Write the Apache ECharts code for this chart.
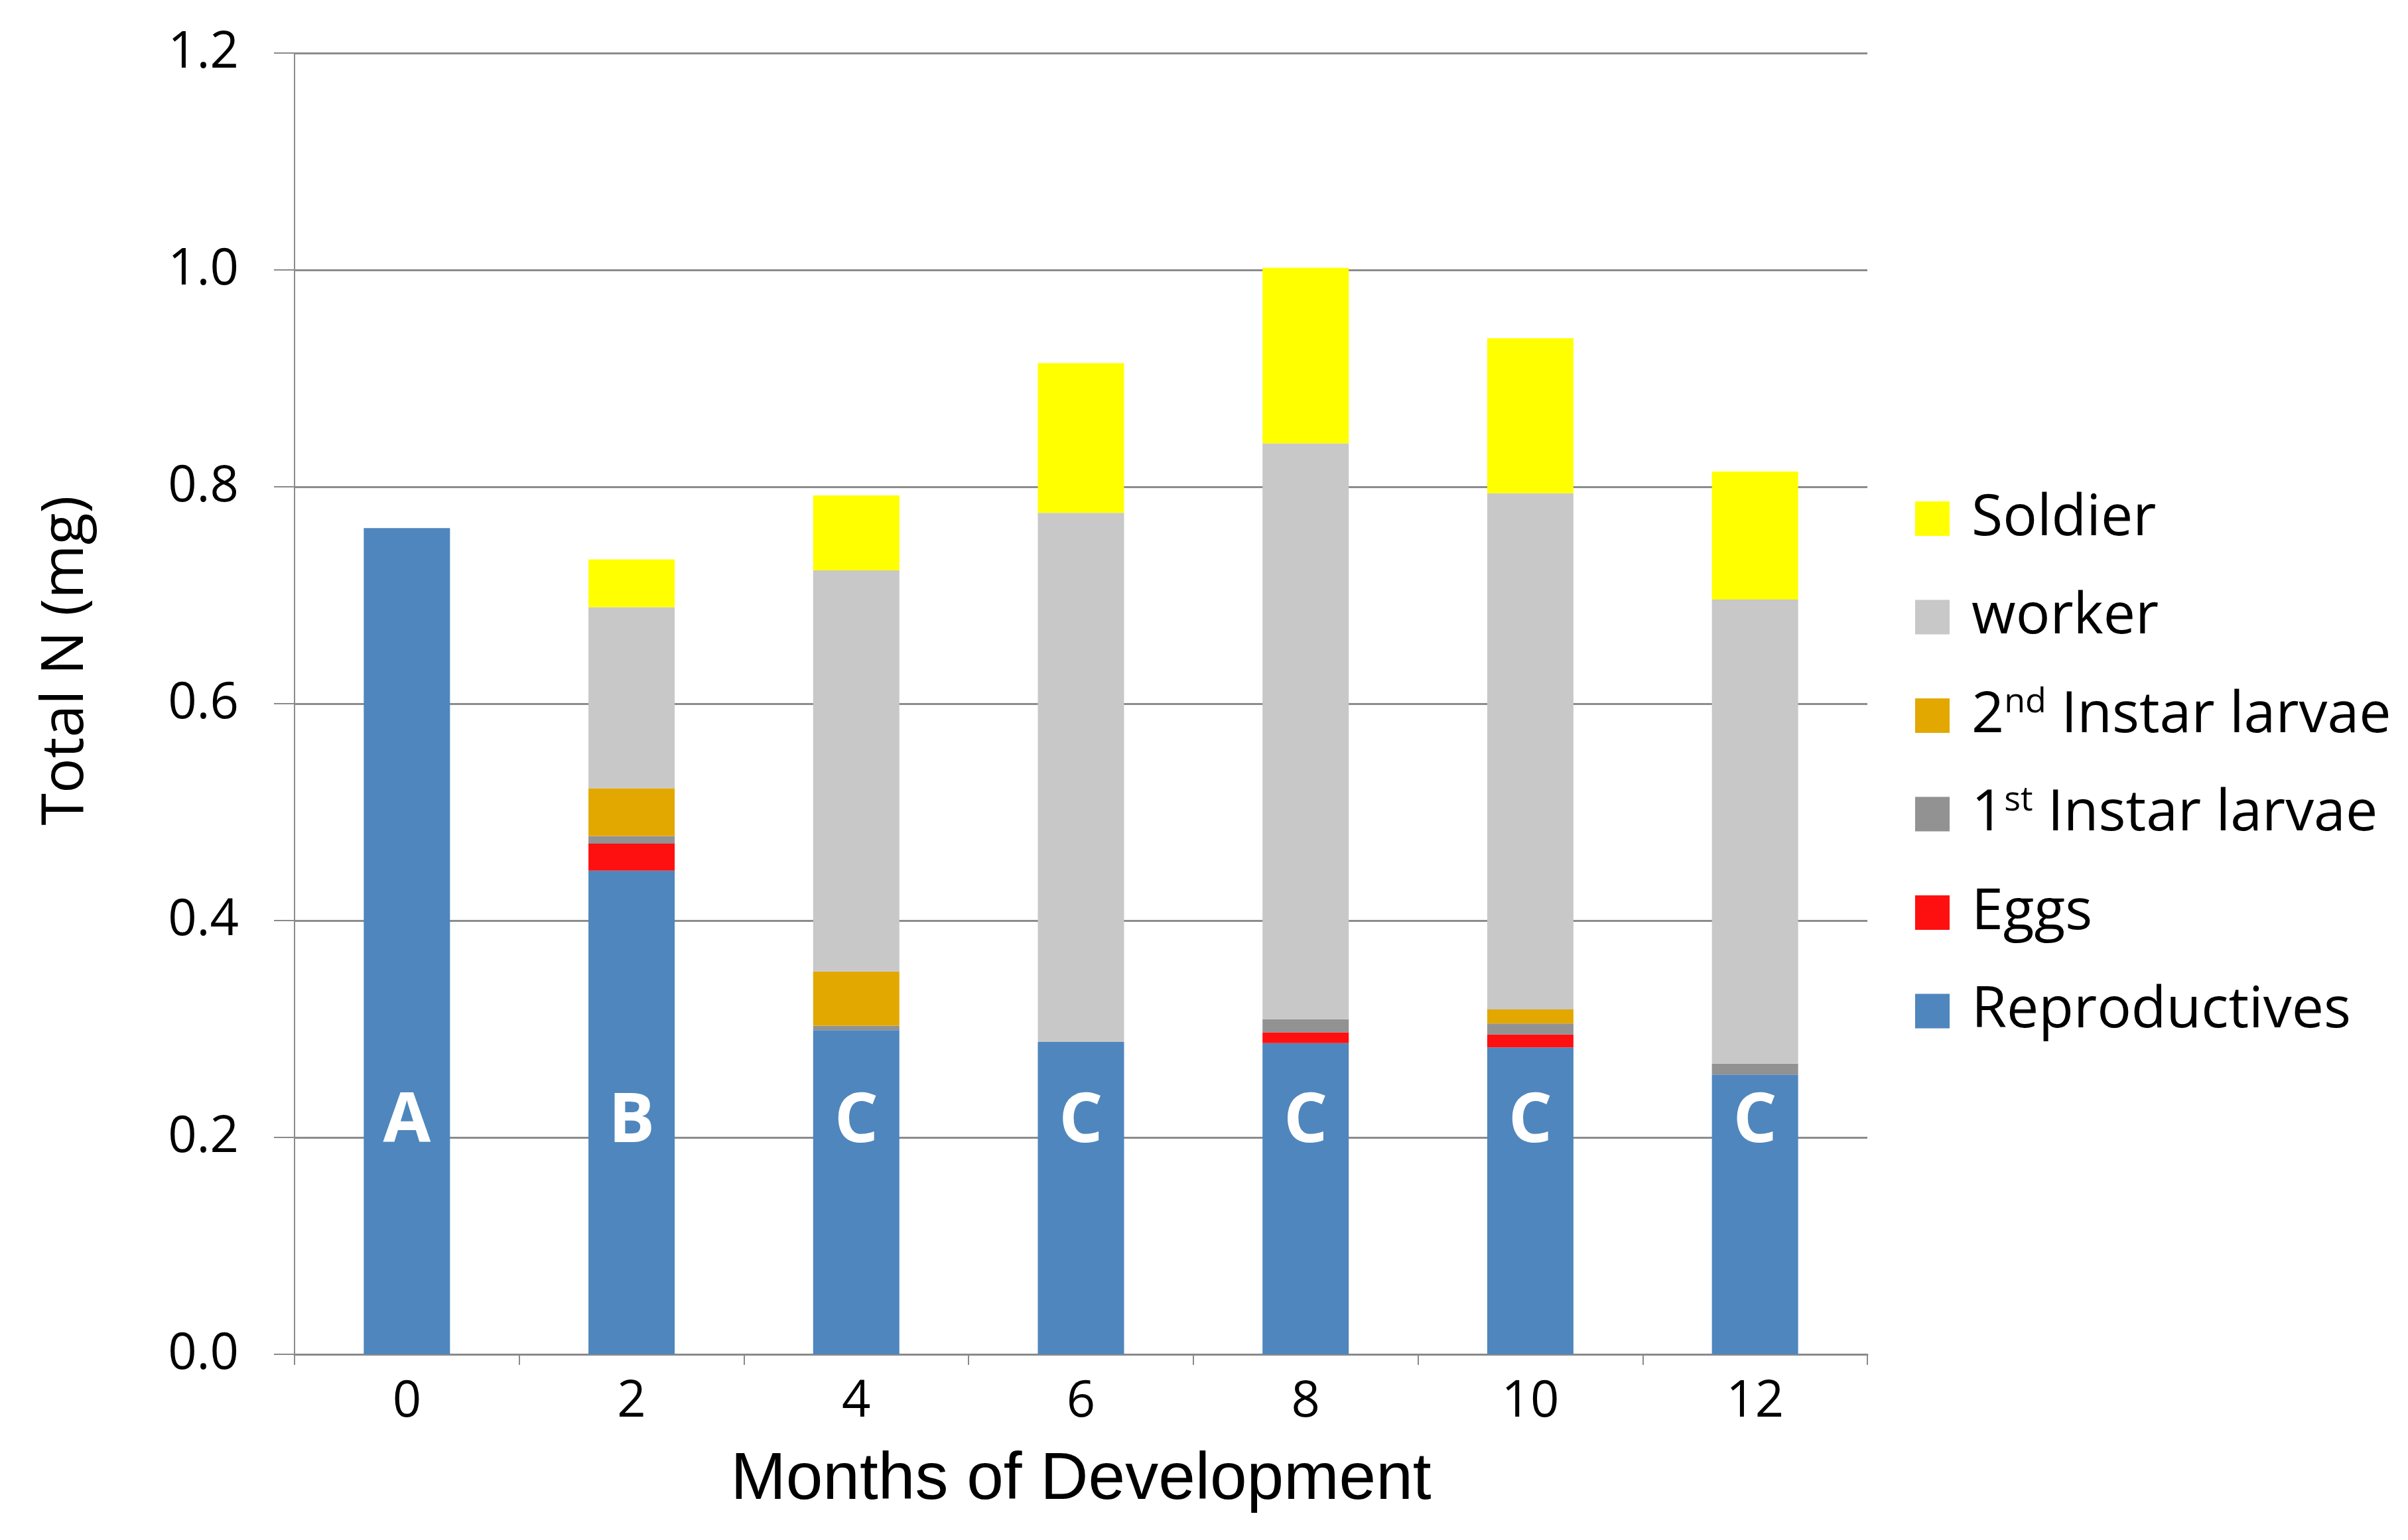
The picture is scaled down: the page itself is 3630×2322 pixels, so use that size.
<!DOCTYPE html>
<html>
<head>
<meta charset="utf-8">
<script src="https://cdn.jsdelivr.net/npm/echarts@6/dist/echarts.min.js"></script>
<style>
  html, body { margin: 0; padding: 0; background: #fff; }
  #chart { width: 3630px; height: 2322px; }
</style>
</head>
<body>
<div id="chart"></div>
<script>
// months on the x axis
var months = ['0', '2', '4', '6', '8', '10', '12'];

// stacked values, bottom to top (mg N)
var reproductives = [0.762, 0.446, 0.299, 0.288, 0.287, 0.283, 0.258];
var eggs          = [0, 0.025, 0, 0, 0.010, 0.012, 0];
var firstInstar   = [0, 0.007, 0.004, 0, 0.012, 0.010, 0.010];
var secondInstar  = [0, 0.044, 0.050, 0, 0, 0.013, 0];
var worker        = [0, 0.167, 0.370, 0.488, 0.531, 0.476, 0.428];
var soldier       = [0, 0.044, 0.069, 0.138, 0.162, 0.143, 0.118];

// significance letters drawn on the reproductives bars
var letters = ['A', 'B', 'C', 'C', 'C', 'C', 'C'];

var yTicks = { min: 0, max: 1.2, step: 0.2 };

var legendOrder = ['Soldier', 'worker', '2nd Instar larvae', '1st Instar larvae', 'Eggs', 'Reproductives'];
var legendText = {
  'Soldier': 'Soldier',
  'worker': 'worker',
  '2nd Instar larvae': '2{sup|nd} Instar larvae',
  '1st Instar larvae': '1{sup|st} Instar larvae',
  'Eggs': 'Eggs',
  'Reproductives': 'Reproductives'
};

var bodyFont = 'Open Sans';
var chart = echarts.init(document.getElementById('chart'));

var makeSeries = function(name, data, color, extra) {
  var s = {
    name: name,
    type: 'bar',
    stack: 'total',
    barWidth: 130,
    data: data,
    itemStyle: { color: color },
    emphasis: { disabled: true }
  };
  return Object.assign(s, extra || {});
};

chart.setOption({
  animation: false,
  backgroundColor: '#ffffff',
  grid: { left: 444, right: 815, top: 80, bottom: 280 },
  legend: {
    orient: 'vertical',
    left: 2882,
    top: 731,
    itemWidth: 52,
    itemHeight: 52,
    itemGap: 56.5,
    icon: 'rect',
    data: legendOrder,
    formatter: function(name) { return legendText[name]; },
    textStyle: {
      fontFamily: bodyFont,
      fontSize: 86,
      lineHeight: 92,
      color: '#000',
      padding: [0, 0, 0, 28],
      rich: {
        sup: { fontFamily: bodyFont, fontSize: 52, lineHeight: 52, verticalAlign: 'top', color: '#000' }
      }
    }
  },
  xAxis: {
    type: 'category',
    data: months,
    name: 'Months of Development',
    nameLocation: 'middle',
    nameGap: 140,
    nameTextStyle: { fontFamily: 'Liberation Sans', fontSize: 100, color: '#000' },
    axisLine: { lineStyle: { color: '#8a8a8a', width: 3 } },
    axisTick: { show: true, length: 16, lineStyle: { color: '#8a8a8a', width: 2 } },
    axisLabel: { fontFamily: bodyFont, fontSize: 76, color: '#000', margin: 34 }
  },
  yAxis: {
    type: 'value',
    min: yTicks.min,
    max: yTicks.max,
    interval: yTicks.step,
    name: 'Total N (mg)',
    nameLocation: 'middle',
    nameGap: 300,
    nameRotate: 90,
    nameTextStyle: { fontFamily: bodyFont, fontSize: 88, color: '#000', padding: [0, 0, 0, 130] },
    axisLine: { show: true, lineStyle: { color: '#8a8a8a', width: 2 } },
    axisTick: { show: true, length: 31, lineStyle: { color: '#8a8a8a', width: 2 } },
    axisLabel: {
      fontFamily: bodyFont, fontSize: 76, color: '#000', margin: 84,
      formatter: function(v) { return v.toFixed(1); }
    },
    splitLine: { lineStyle: { color: '#8c8c8c', width: 3 } }
  },
  series: [
    makeSeries('Reproductives', reproductives, '#4f86bd', {
      label: {
        show: true,
        position: 'insideBottom',
        distance: 298,
        formatter: function(p) { return letters[p.dataIndex]; },
        fontFamily: bodyFont,
        fontWeight: 'bold',
        fontSize: 104,
        color: '#ffffff'
      }
    }),
    makeSeries('Eggs', eggs, '#ff1010'),
    makeSeries('1st Instar larvae', firstInstar, '#929292'),
    makeSeries('2nd Instar larvae', secondInstar, '#e2a800'),
    makeSeries('worker', worker, '#c8c8c8'),
    makeSeries('Soldier', soldier, '#ffff00')
  ]
});
</script>
</body>
</html>
